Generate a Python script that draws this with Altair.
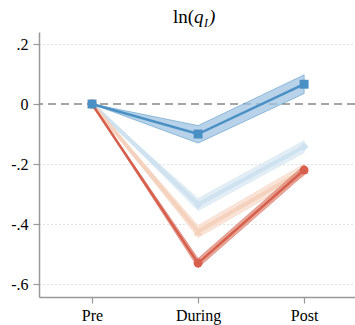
import json
import altair as alt
import pandas as pd

periods = ["Pre", "During", "Post"]
period_idx = [0, 1, 2]

series_names = ["Light blue", "Peach", "Red", "Blue"]
estimates = {
    "Light blue": [0.0, -0.335, -0.142],
    "Peach": [0.0, -0.425, -0.220],
    "Red": [0.0, -0.530, -0.220],
    "Blue": [0.0, -0.100, 0.066],
}
lower = {
    "Light blue": [0.0, -0.355, -0.162],
    "Peach": [0.0, -0.445, -0.240],
    "Red": [0.0, -0.545, -0.235],
    "Blue": [0.0, -0.130, 0.035],
}
upper = {
    "Light blue": [0.0, -0.315, -0.122],
    "Peach": [0.0, -0.405, -0.200],
    "Red": [0.0, -0.515, -0.205],
    "Blue": [0.0, -0.072, 0.097],
}
line_colors = {"Light blue": "#cfe2ef", "Peach": "#f5d2bd", "Red": "#d6604d", "Blue": "#4a90c4"}
band_colors = {"Light blue": "#d9e8f3", "Peach": "#f9dccb", "Red": "#e08a78", "Blue": "#9fc4e2"}
shapes = {"Light blue": "diamond", "Peach": "triangle-up", "Red": "circle", "Blue": "square"}
line_widths = {"Light blue": 4, "Peach": 4, "Red": 2.5, "Blue": 2.5}

yticks = [0.2, 0.0, -0.2, -0.4, -0.6]

rows = []
for s in series_names:
    for i, p in enumerate(periods):
        rows.append({"series": s, "t": period_idx[i], "period": p,
                     "est": estimates[s][i], "lo": lower[s][i], "hi": upper[s][i]})
df = pd.DataFrame(rows)

serif = "Liberation Serif"
xscale = alt.Scale(domain=[-0.5, 2.48], nice=False, zero=False)
yscale = alt.Scale(domain=[-0.643, 0.24], nice=False, zero=False)

label_expr_x = json.dumps(periods) + "[datum.value]"
label_expr_y = "datum.value == 0 ? '0' : (datum.value < 0 ? '-' : '') + '.' + format(round(abs(datum.value) * 10), 'd')"

xaxis = alt.Axis(values=period_idx, labelExpr=label_expr_x, grid=False, labelPadding=4)
yaxis = alt.Axis(values=yticks, labelExpr=label_expr_y, grid=True,
                 gridDash=[1, 3], gridColor="#c4c4c4",
                 gridOpacity={"condition": {"test": "datum.value == 0", "value": 0}, "value": 1},
                 labelPadding=5)


def X(field):
    return alt.X(field, type="quantitative", scale=xscale, axis=xaxis, title=None)


def Y(field):
    return alt.Y(field, type="quantitative", scale=yscale, axis=yaxis, title=None)


base = alt.Chart(df)

zero_rule = alt.Chart(pd.DataFrame({"z": [0.0]})).mark_rule(
    color="#888888", strokeDash=[8, 5], strokeWidth=1.5
).encode(y=Y("z"))

layers = [zero_rule]
for s in series_names:
    sub = base.transform_filter(alt.datum.series == s)
    band = sub.mark_area(
        color=band_colors[s], opacity=0.75,
        stroke=line_colors[s], strokeWidth=1, strokeOpacity=0.8
    ).encode(x=X("t"), y=Y("lo"), y2="hi:Q")
    line = sub.mark_line(color=line_colors[s], strokeWidth=line_widths[s]).encode(
        x=X("t"), y=Y("est"))
    pts = sub.mark_point(shape=shapes[s], filled=True, size=80, opacity=1,
                         color=line_colors[s]).encode(x=X("t"), y=Y("est"))
    layers += [band, line, pts]

title_parts = ["ln(", "q", "I", ")"]
t1 = alt.Chart(pd.DataFrame({"txt": [title_parts[0]]})).mark_text(
    font=serif, fontSize=19, align="right", baseline="alphabetic", color="black"
).encode(text="txt:N", x=alt.value(155), y=alt.value(-9))
t2 = alt.Chart(pd.DataFrame({"txt": [title_parts[1]]})).mark_text(
    font=serif, fontSize=19, fontStyle="italic", align="left", baseline="alphabetic", color="black"
).encode(text="txt:N", x=alt.value(155), y=alt.value(-9))
t3 = alt.Chart(pd.DataFrame({"txt": [title_parts[2]]})).mark_text(
    font=serif, fontSize=12, fontStyle="italic", align="left", baseline="alphabetic", color="black"
).encode(text="txt:N", x=alt.value(165), y=alt.value(-5))
t4 = alt.Chart(pd.DataFrame({"txt": [title_parts[3]]})).mark_text(
    font=serif, fontSize=19, fontStyle="italic", align="left", baseline="alphabetic", color="black"
).encode(text="txt:N", x=alt.value(170), y=alt.value(-9))
layers += [t1, t2, t3, t4]

chart = alt.layer(*layers).properties(
    width=316, height=265,
    autosize=alt.AutoSizeParams(type="none"),
    padding={"left": 39, "top": 32, "right": 0, "bottom": 28},
).configure_view(stroke=None).configure_axis(
    labelFont=serif, labelFontSize=16, labelColor="black",
    tickSize=6, tickColor="#999999", tickWidth=1.2,
    domainColor="#999999", domainWidth=1.5,
)

chart.save("out.html", embed_options={"renderer": "svg", "actions": False})
